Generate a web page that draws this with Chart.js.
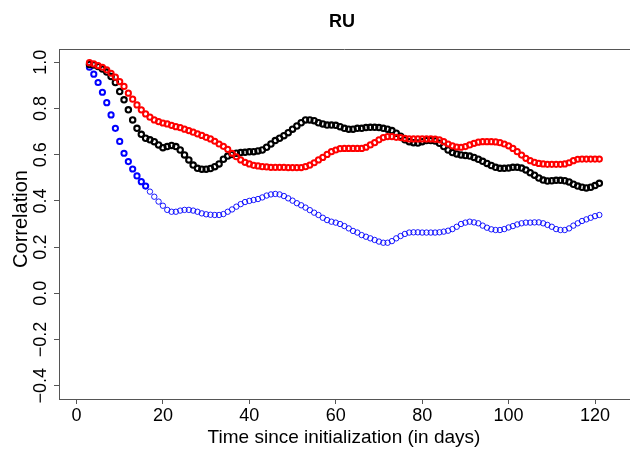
<!DOCTYPE html>
<html>
<head>
<meta charset="utf-8">
<script src="https://cdn.jsdelivr.net/npm/chart.js@4"></script>
<style>
  html, body { margin: 0; padding: 0; background: #fff; overflow: hidden; }
  #wrap { width: 630px; height: 450px; position: relative; }
</style>
</head>
<body>
<div id="wrap"><canvas id="c" width="630" height="450"></canvas></div>
<script>
// ---- data ----
const days = Array.from({ length: 119 }, (_, i) => i + 3); // days 3..121

const blackSeries = [
  0.990, 0.988, 0.981, 0.970, 0.957, 0.938, 0.912, 0.873, 0.837, 0.794,
  0.750, 0.714, 0.688, 0.671, 0.664, 0.656, 0.642, 0.630, 0.635, 0.640,
  0.635, 0.620, 0.599, 0.577, 0.555, 0.541, 0.537, 0.537, 0.540, 0.548,
  0.560, 0.580, 0.594, 0.601, 0.606, 0.609, 0.610, 0.612, 0.613, 0.616,
  0.620, 0.632, 0.646, 0.661, 0.671, 0.682, 0.695, 0.710, 0.724, 0.738,
  0.750, 0.750, 0.747, 0.738, 0.733, 0.728, 0.728, 0.727, 0.721, 0.714,
  0.710, 0.710, 0.714, 0.714, 0.717, 0.718, 0.718, 0.717, 0.714, 0.710,
  0.704, 0.693, 0.680, 0.664, 0.656, 0.652, 0.650, 0.656, 0.661, 0.661,
  0.659, 0.649, 0.635, 0.620, 0.609, 0.603, 0.599, 0.596, 0.594, 0.588,
  0.580, 0.571, 0.562, 0.553, 0.545, 0.541, 0.541, 0.542, 0.545, 0.545,
  0.542, 0.534, 0.522, 0.511, 0.499, 0.490, 0.486, 0.487, 0.489, 0.489,
  0.487, 0.482, 0.472, 0.464, 0.459, 0.456, 0.459, 0.466, 0.476
];

const redSeries = [
  0.998, 0.993, 0.985, 0.978, 0.967, 0.952, 0.935, 0.916, 0.895, 0.866,
  0.840, 0.815, 0.794, 0.776, 0.762, 0.750, 0.743, 0.737, 0.733, 0.727,
  0.721, 0.717, 0.710, 0.704, 0.697, 0.690, 0.683, 0.675, 0.668, 0.658,
  0.646, 0.636, 0.623, 0.606, 0.591, 0.577, 0.567, 0.560, 0.554, 0.551,
  0.548, 0.547, 0.545, 0.545, 0.545, 0.545, 0.544, 0.544, 0.544, 0.544,
  0.548, 0.555, 0.565, 0.577, 0.588, 0.601, 0.613, 0.620, 0.626, 0.627,
  0.627, 0.627, 0.627, 0.627, 0.632, 0.642, 0.652, 0.664, 0.674, 0.678,
  0.678, 0.675, 0.674, 0.671, 0.668, 0.668, 0.668, 0.668, 0.668, 0.668,
  0.667, 0.664, 0.656, 0.646, 0.638, 0.633, 0.632, 0.635, 0.642, 0.649,
  0.654, 0.656, 0.656, 0.656, 0.655, 0.652, 0.646, 0.638, 0.627, 0.613,
  0.598, 0.584, 0.574, 0.567, 0.562, 0.560, 0.558, 0.558, 0.558, 0.558,
  0.560, 0.565, 0.574, 0.580, 0.581, 0.581, 0.581, 0.581, 0.581
];

const blueSeries = [
  0.978, 0.948, 0.912, 0.870, 0.825, 0.772, 0.714, 0.657, 0.606, 0.570,
  0.538, 0.508, 0.483, 0.464, 0.440, 0.418, 0.397, 0.379, 0.361, 0.353,
  0.353, 0.358, 0.361, 0.361, 0.358, 0.353, 0.346, 0.342, 0.340, 0.339,
  0.339, 0.343, 0.353, 0.363, 0.375, 0.386, 0.395, 0.400, 0.404, 0.408,
  0.415, 0.423, 0.428, 0.430, 0.428, 0.421, 0.411, 0.401, 0.390, 0.381,
  0.371, 0.360, 0.349, 0.339, 0.327, 0.317, 0.310, 0.306, 0.300, 0.291,
  0.281, 0.270, 0.263, 0.252, 0.245, 0.238, 0.231, 0.224, 0.219, 0.219,
  0.226, 0.238, 0.248, 0.257, 0.263, 0.264, 0.264, 0.263, 0.263, 0.263,
  0.263, 0.264, 0.267, 0.271, 0.278, 0.288, 0.300, 0.306, 0.310, 0.307,
  0.303, 0.293, 0.284, 0.277, 0.274, 0.274, 0.278, 0.285, 0.291, 0.298,
  0.303, 0.306, 0.306, 0.307, 0.307, 0.303, 0.296, 0.288, 0.278, 0.274,
  0.274, 0.281, 0.293, 0.303, 0.313, 0.320, 0.327, 0.334, 0.339
];

// blue markers are drawn bold up to this day, thin afterwards
const blueBoldLastDay = 16;

const xTicks = [0, 20, 40, 60, 80, 100, 120];
const yTicks = [-0.4, -0.2, 0.0, 0.2, 0.4, 0.6, 0.8, 1.0];

const titleText = 'RU';
const xTitle = 'Time since initialization (in days)';
const yTitle = 'Correlation';

// ---- helpers ----
const toPts = arr => days.map((d, i) => ({ x: d, y: arr[i] }));
const FONT = '"Liberation Sans", Arial, Helvetica, sans-serif';

const textPlugin = {
  id: 'rtext',
  afterDraw(chart) {
    const ctx = chart.ctx;
    const ca = chart.chartArea;
    const ys = chart.scales.y;
    ctx.save();
    // top frame line
    ctx.strokeStyle = '#555';
    ctx.lineWidth = 1;
    ctx.beginPath();
    ctx.moveTo(ca.left, ca.top + 0.5);
    ctx.lineTo(chart.width, ca.top + 0.5);
    ctx.stroke();
    // title
    ctx.fillStyle = '#000';
    ctx.font = 'bold 18px ' + FONT;
    ctx.textAlign = 'center';
    ctx.textBaseline = 'middle';
    ctx.fillText(titleText, 342, 22);
    // y tick labels (rotated like R)
    ctx.font = '18px ' + FONT;
    yTicks.forEach(v => {
      const py = ys.getPixelForValue(v);
      ctx.save();
      ctx.translate(41, py);
      ctx.rotate(-Math.PI / 2);
      ctx.textAlign = 'center';
      ctx.textBaseline = 'middle';
      ctx.fillText(v.toFixed(1).replace('-', '\u2212'), 0, 0);
      ctx.restore();
    });
    // y axis title
    ctx.save();
    ctx.font = '20px ' + FONT;
    ctx.translate(21, 219);
    ctx.rotate(-Math.PI / 2);
    ctx.textAlign = 'center';
    ctx.textBaseline = 'middle';
    ctx.fillText(yTitle, 0, 0);
    ctx.restore();
    // x axis title
    ctx.font = '19px ' + FONT;
    ctx.textAlign = 'center';
    ctx.textBaseline = 'middle';
    ctx.fillText(xTitle, 344, 438);
    ctx.restore();
  }
};

new Chart(document.getElementById('c'), {
  type: 'scatter',
  data: {
    datasets: [
      {
        label: 'red',
        data: toPts(redSeries),
        showLine: false,
        pointStyle: 'circle',
        pointRadius: 2.6,
        pointBorderWidth: 2,
        pointBackgroundColor: 'rgba(0,0,0,0)',
        pointBorderColor: '#ff0000'
      },
      {
        label: 'black',
        data: toPts(blackSeries),
        showLine: false,
        pointStyle: 'circle',
        pointRadius: 2.7,
        pointBorderWidth: 2.1,
        pointBackgroundColor: 'rgba(0,0,0,0)',
        pointBorderColor: '#000000'
      },
      {
        label: 'blue',
        data: toPts(blueSeries),
        showLine: false,
        pointStyle: 'circle',
        pointRadius: c => (c.raw && c.raw.x <= blueBoldLastDay) ? 2.6 : 2.7,
        pointBorderWidth: c => (c.raw && c.raw.x <= blueBoldLastDay) ? 2 : 0.9,
        pointBackgroundColor: 'rgba(0,0,0,0)',
        pointBorderColor: '#0000ff'
      }
    ]
  },
  options: {
    responsive: false,
    animation: false,
    events: [],
    layout: { autoPadding: false, padding: { top: 49, left: 0, right: 0, bottom: 0 } },
    plugins: {
      legend: { display: false },
      title: { display: false },
      tooltip: { enabled: false }
    },
    scales: {
      x: {
        type: 'linear',
        min: -4.05,
        max: 128.1,
        afterFit: s => { s.height = 51; s.paddingRight = 0; s.paddingLeft = 0; },
        afterBuildTicks: s => { s.ticks = xTicks.map(v => ({ value: v })); },
        ticks: {
          includeBounds: false,
          color: '#000',
          font: { family: FONT, size: 18 },
          padding: 1,
          maxRotation: 0,
          callback: v => String(v)
        },
        grid: {
          display: true,
          drawOnChartArea: false,
          drawTicks: true,
          tickLength: 5,
          color: '#555'
        },
        border: { display: true, color: '#555', width: 1 }
      },
      y: {
        type: 'linear',
        min: -0.457,
        max: 1.057,
        afterFit: s => { s.width = 59; s.paddingTop = 0; s.paddingBottom = 0; },
        afterBuildTicks: s => { s.ticks = yTicks.map(v => ({ value: v })); },
        ticks: { display: false, includeBounds: false },
        grid: {
          display: true,
          drawOnChartArea: false,
          drawTicks: true,
          tickLength: 5,
          color: '#555'
        },
        border: { display: true, color: '#555', width: 1 }
      }
    }
  },
  plugins: [textPlugin]
});
</script>
</body>
</html>
